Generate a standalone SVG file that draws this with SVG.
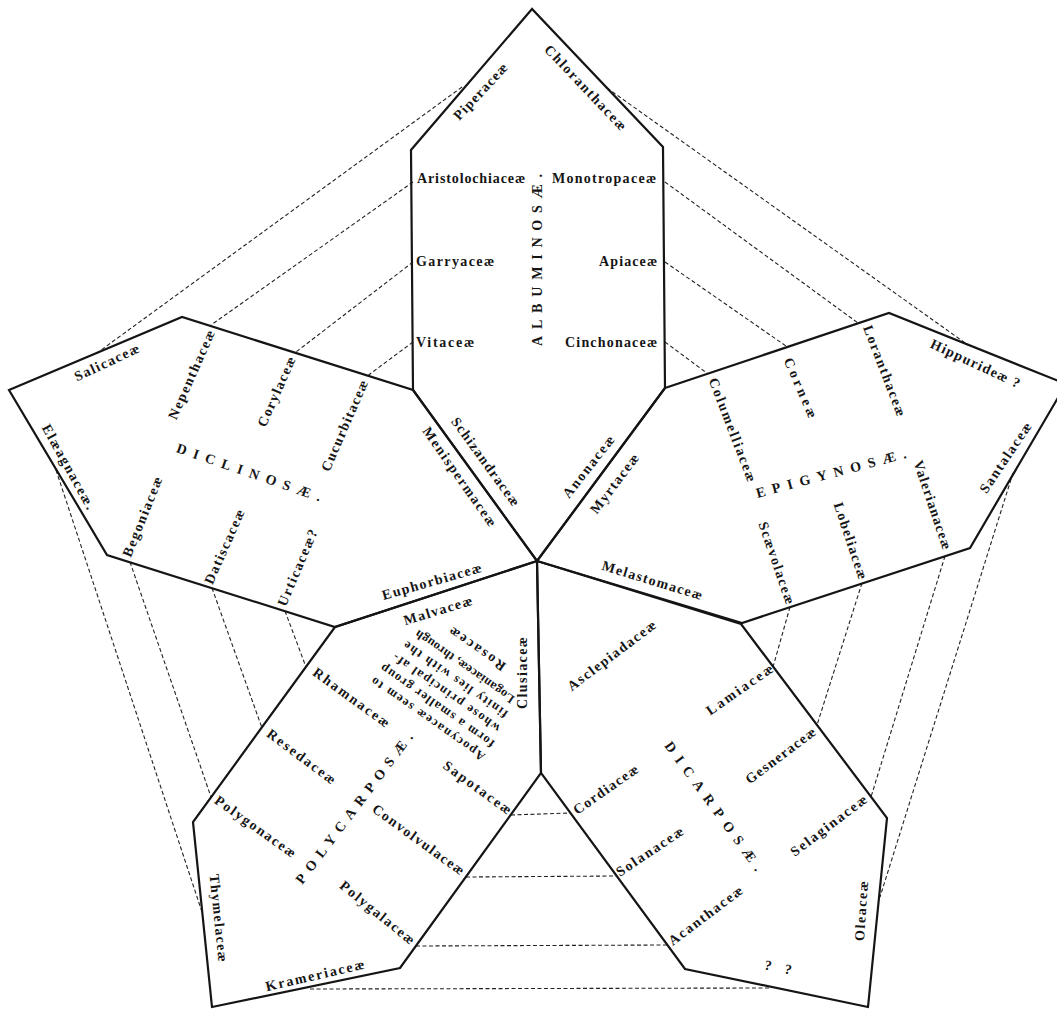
<svg xmlns="http://www.w3.org/2000/svg" width="1057" height="1011" viewBox="0 0 1057 1011">
<style>
.sec{fill:none;stroke:#151515;stroke-width:2.2;stroke-linejoin:miter}
.dash{fill:none;stroke:#222;stroke-width:1.1;stroke-dasharray:4 2.5}
text{font-family:"Liberation Serif","DejaVu Serif",serif;fill:#151515}
.lb{font-size:14px;font-weight:bold;text-anchor:middle}
.grp{font-size:14px;font-weight:bold;text-anchor:middle}
.note{font-size:12.5px;font-weight:bold;text-anchor:middle}
</style>
<rect x="0" y="0" width="1057" height="1011" fill="#fff"/>
<g id="connectors">
<line class="dash" x1="462" y1="87" x2="97" y2="353"/>
<line class="dash" x1="413" y1="182" x2="211" y2="325"/>
<line class="dash" x1="413" y1="262" x2="296" y2="352"/>
<line class="dash" x1="413" y1="342" x2="366" y2="377"/>
<line class="dash" x1="607" y1="88" x2="968" y2="345"/>
<line class="dash" x1="665" y1="182" x2="858" y2="323"/>
<line class="dash" x1="665" y1="262" x2="786" y2="346"/>
<line class="dash" x1="665" y1="342" x2="708" y2="374"/>
<line class="dash" x1="130" y1="562" x2="211" y2="797"/>
<line class="dash" x1="212" y1="588" x2="262" y2="728"/>
<line class="dash" x1="285" y1="611" x2="306" y2="667"/>
<line class="dash" x1="56" y1="470" x2="202" y2="912"/>
<line class="dash" x1="790" y1="607" x2="773" y2="667"/>
<line class="dash" x1="862" y1="583" x2="817" y2="725"/>
<line class="dash" x1="945" y1="556" x2="871" y2="797"/>
<line class="dash" x1="1013" y1="473" x2="880" y2="897"/>
<line class="dash" x1="511" y1="815" x2="570" y2="813"/>
<line class="dash" x1="466" y1="877" x2="617" y2="876"/>
<line class="dash" x1="416" y1="946" x2="668" y2="945"/>
<line class="dash" x1="310" y1="989" x2="770" y2="988"/>
</g>
<g id="albuminosae">
<polygon class="sec" points="532,9 411,150 413,390 537,561 665,388 663,147"/>
<text class="lb" transform="translate(481,92) rotate(-47)" dy="4" textLength="72">Piperaceæ</text>
<text class="lb" transform="translate(585,88) rotate(46.5)" dy="4" textLength="112">Chloranthaceæ</text>
<text class="lb" transform="translate(471,179)" dy="4" textLength="108">Aristolochiaceæ</text>
<text class="lb" transform="translate(604,179)" dy="4" textLength="104">Monotropaceæ</text>
<text class="lb" transform="translate(455,262)" dy="4" textLength="78">Garryaceæ</text>
<text class="lb" transform="translate(628,262)" dy="4" textLength="58">Apiaceæ</text>
<text class="lb" transform="translate(445,343)" dy="4" textLength="58">Vitaceæ</text>
<text class="lb" transform="translate(611,343)" dy="4" textLength="92">Cinchonaceæ</text>
<text class="grp" transform="translate(537,260) rotate(-90)" dy="5" font-size="13" textLength="172">ALBUMINOSÆ.</text>
<text class="lb" transform="translate(485,462) rotate(54)" dy="4" textLength="106">Schizandraceæ</text>
<text class="lb" transform="translate(589,467) rotate(-52)" dy="4" textLength="75">Anonaceæ</text>
</g>
<g id="diclinosae">
<polygon class="sec" points="9,390 182,317 413,390 537,561 335,627 107,555"/>
<text class="lb" transform="translate(107,363) rotate(-25)" dy="4" textLength="70">Salicaceæ</text>
<text class="lb" transform="translate(192,375) rotate(-66)" dy="4" textLength="96">Nepenthaceæ</text>
<text class="lb" transform="translate(277,392) rotate(-66)" dy="4" textLength="75">Corylaceæ</text>
<text class="lb" transform="translate(345,426) rotate(-66.5)" dy="4" textLength="98">Cucurbitaceæ</text>
<text class="grp" transform="translate(249,472) rotate(19)" dy="5" textLength="152">DICLINOSÆ.</text>
<text class="lb" transform="translate(68,467) rotate(61)" dy="4" textLength="95">Elæagnaceæ.</text>
<text class="lb" transform="translate(143,517) rotate(-68)" dy="4" textLength="85">Begoniaceæ</text>
<text class="lb" transform="translate(225,547) rotate(-66)" dy="4" textLength="80">Datiscaceæ</text>
<text class="lb" transform="translate(298,568) rotate(-67)" dy="4" textLength="82">Urticaceæ?</text>
<text class="lb" transform="translate(459,477) rotate(55)" dy="4" textLength="118">Menispermaceæ</text>
<text class="lb" transform="translate(432,582) rotate(-16)" dy="4" textLength="103">Euphorbiaceæ</text>
</g>
<g id="epigynosae">
<polygon class="sec" points="665,388 889,313 1066,384 970,548 742,623 537,561"/>
<text class="lb" transform="translate(615,484) rotate(-53)" dy="4" textLength="71">Myrtaceæ</text>
<text class="lb" transform="translate(652,581) rotate(17)" dy="4" textLength="104">Melastomaceæ</text>
<text class="lb" transform="translate(732,430) rotate(69)" dy="4" textLength="110">Columelliaceæ</text>
<text class="lb" transform="translate(800,388) rotate(66.5)" dy="4" textLength="64">Corneæ</text>
<text class="lb" transform="translate(884,371) rotate(69)" dy="4" textLength="96">Loranthaceæ</text>
<text class="lb" transform="translate(975,364) rotate(25)" dy="4" textLength="97">Hippurideæ ?</text>
<text class="lb" transform="translate(1006,458) rotate(-56)" dy="4" textLength="82">Santalaceæ</text>
<text class="grp" transform="translate(831,473) rotate(-15)" dy="5" textLength="155">EPIGYNOSÆ.</text>
<text class="lb" transform="translate(932,505) rotate(71.5)" dy="4" textLength="93">Valerianaceæ</text>
<text class="lb" transform="translate(776,563) rotate(71)" dy="4" textLength="86">Scævolaceæ</text>
<text class="lb" transform="translate(850,541) rotate(71.5)" dy="4" textLength="80">Lobeliaceæ</text>
</g>
<g id="dicarposae">
<polygon class="sec" points="537,561 741,624 887,818 868,1007 685,969 541,773"/>
<text class="lb" transform="translate(612,656) rotate(-37)" dy="4" textLength="107">Asclepiadaceæ</text>
<text class="lb" transform="translate(740,690) rotate(-35)" dy="4" textLength="78">Lamiaceæ</text>
<text class="lb" transform="translate(781,756) rotate(-37)" dy="4" textLength="84">Gesneraceæ</text>
<text class="grp" transform="translate(714,806) rotate(54)" dy="5" textLength="156">DICARPOSÆ.</text>
<text class="lb" transform="translate(606,790) rotate(-35)" dy="4" textLength="76">Cordiaceæ</text>
<text class="lb" transform="translate(650,852) rotate(-34)" dy="4" textLength="78">Solanaceæ</text>
<text class="lb" transform="translate(706,916) rotate(-37)" dy="4" textLength="89">Acanthaceæ</text>
<text class="lb" transform="translate(829,826) rotate(-37)" dy="4" textLength="92">Selaginaceæ</text>
<text class="lb" transform="translate(862,911) rotate(-86)" dy="4" textLength="60">Oleaceæ</text>
<text class="lb" transform="translate(768,966) rotate(12)" dy="4">?</text>
<text class="lb" transform="translate(788,970) rotate(12)" dy="4">?</text>
</g>
<g id="polycarposae">
<polygon class="sec" points="537,561 335,627 193,822 212,1007 400,968 541,773"/>
<text class="lb" transform="translate(438,611) rotate(-17)" dy="4" textLength="71">Malvaceæ</text>
<text class="lb" transform="translate(523,673) rotate(-90)" dy="4" textLength="72">Clusiaceæ</text>
<text class="lb" transform="translate(351,698) rotate(36)" dy="4" textLength="91">Rhamnaceæ</text>
<g transform="translate(428,719) rotate(215)">
<text class="note" x="0" y="0" dy="4" textLength="136">Apocynaceæ seem to</text>
<text class="note" x="0" y="16" dy="4" textLength="136">form a smaller group</text>
<text class="note" x="0" y="32" dy="4" textLength="128">whose principal af-</text>
<text class="note" x="0" y="48" dy="4" textLength="124">finity lies with the</text>
<text class="note" x="0" y="64" dy="4" textLength="118">Loganiaceæ, through</text>
<text class="lb" x="0" y="86" dy="4" textLength="66">Rosaceæ</text>
</g>
<text class="lb" transform="translate(301,757) rotate(36.7)" dy="4" textLength="82">Resedaceæ</text>
<text class="grp" transform="translate(354,808) rotate(-53)" dy="5" textLength="185">POLYCARPOSÆ.</text>
<text class="lb" transform="translate(477,788) rotate(36)" dy="4" textLength="81">Sapotaceæ</text>
<text class="lb" transform="translate(255,827) rotate(35.5)" dy="4" textLength="96">Polygonaceæ</text>
<text class="lb" transform="translate(418,840) rotate(36)" dy="4" textLength="110">Convolvulaceæ</text>
<text class="lb" transform="translate(377,913) rotate(39)" dy="4" textLength="92">Polygalaceæ</text>
<text class="lb" transform="translate(218,918) rotate(84)" dy="4" textLength="88">Thymelaceæ</text>
<text class="lb" transform="translate(315,976) rotate(-13)" dy="4" textLength="101">Krameriaceæ</text>
</g>
</svg>
